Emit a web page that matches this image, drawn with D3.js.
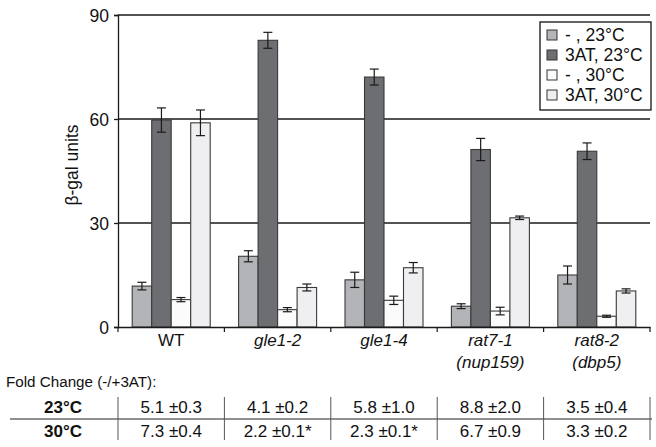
<!DOCTYPE html>
<html><head><meta charset="utf-8">
<script src="https://cdn.jsdelivr.net/npm/d3@7"></script>
<style>body{margin:0;background:#fff}svg{display:block}text{font-family:"Liberation Sans",Arial,sans-serif;fill:#111}</style>
</head><body>
<svg id="c" width="656" height="447"></svg>
<script>
const categories = ["WT","gle1-2","gle1-4","rat7-1","rat8-2"];
const catLine2 = ["","","","(nup159)","(dbp5)"];
const catItalic = [false,true,true,true,true];
const seriesNames = ["- , 23°C","3AT, 23°C","- , 30°C","3AT, 30°C"];
const seriesColors = ["#b3b4b7","#6d6e72","#fbfbfb","#efeff2"];
const minus23 = [11.8,20.4,13.6,6.0,15.0];
const minus23Err = [1.1,1.6,2.2,0.7,2.6];
const at23 = [59.7,82.7,72.1,51.2,50.7];
const at23Err = [3.5,2.3,2.3,3.2,2.4];
const minus30 = [7.9,5.0,7.7,4.6,3.1];
const minus30Err = [0.6,0.6,1.2,1.1,0.3];
const at30 = [58.9,11.4,17.1,31.5,10.4];
const at30Err = [3.7,1.0,1.5,0.5,0.6];
const yTicks = [0,30,60,90];
const tableRows = ["23°C","30°C"];
const fold23 = ["5.1 ±0.3","4.1 ±0.2","5.8 ±1.0","8.8 ±2.0","3.5 ±0.4"];
const fold30 = ["7.3 ±0.4","2.2 ±0.1*","2.3 ±0.1*","6.7 ±0.9","3.3 ±0.2"];

const values = [minus23, at23, minus30, at30];
const errs = [minus23Err, at23Err, minus30Err, at30Err];

const svg = d3.select("#c");
const L = 118, R = 650, T = 15, B = 327;
const x = d3.scaleBand().domain(categories).range([L, R]);
const bw = x.bandwidth();
const xs = d3.scaleBand().domain(d3.range(4)).range([14.2, bw - 14.2]);
const y = d3.scaleLinear().domain([0, 90]).range([B, T]);

// gridlines
svg.append("g").selectAll("line").data(yTicks.filter(d => d > 0)).join("line")
  .attr("x1", L).attr("x2", R).attr("y1", d => y(d)).attr("y2", d => y(d))
  .attr("stroke", "#1a1a1a").attr("stroke-width", 1.3);

// y axis
const ya = svg.append("g").attr("transform", `translate(${L},0)`)
  .call(d3.axisLeft(y).tickValues(yTicks).tickSize(4).tickPadding(5));
ya.select(".domain").attr("stroke", "#1a1a1a").attr("stroke-width", 1.3);
ya.selectAll(".tick line").attr("stroke", "#1a1a1a").attr("stroke-width", 1.3);
ya.selectAll(".tick text").style("font-size", "17.5px").attr("fill", "#111").attr("dy", "0.36em");

svg.append("text").attr("transform", `translate(78,${(T + B) / 2 - 6}) rotate(-90)`)
  .attr("text-anchor", "middle").style("font-size", "17.5px").text("β-gal units");

// bars
const data = [];
categories.forEach((c, i) => values.forEach((s, j) => data.push({c, j, v: s[i], e: errs[j][i]})));
const g = svg.append("g");
g.selectAll("rect").data(data).join("rect")
  .attr("x", d => x(d.c) + xs(d.j)).attr("width", xs.bandwidth())
  .attr("y", d => y(d.v)).attr("height", d => y(0) - y(d.v))
  .attr("fill", d => seriesColors[d.j]).attr("stroke", "#3a3a3a").attr("stroke-width", 1.1);

// error bars
const eg = svg.append("g").attr("stroke", "#1a1a1a").attr("stroke-width", 1.2);
data.forEach(d => {
  const cx = x(d.c) + xs(d.j) + xs.bandwidth() / 2;
  eg.append("line").attr("x1", cx).attr("x2", cx).attr("y1", y(d.v + d.e)).attr("y2", y(d.v - d.e));
  [d.v + d.e, d.v - d.e].forEach(v => eg.append("line").attr("x1", cx - 4.5).attr("x2", cx + 4.5).attr("y1", y(v)).attr("y2", y(v)));
});

// x axis
const xa = svg.append("g").attr("transform", `translate(0,${B})`)
  .call(d3.axisBottom(x).tickSize(0).tickFormat(""));
xa.select(".domain").attr("stroke", "#1a1a1a").attr("stroke-width", 1.3);
const bounds = categories.map(c => x(c)).concat([R]);
svg.append("g").selectAll("line").data(bounds).join("line")
  .attr("x1", d => d).attr("x2", d => d).attr("y1", B).attr("y2", B + 5)
  .attr("stroke", "#1a1a1a").attr("stroke-width", 1.2);

const cl = svg.append("g");
categories.forEach((c, i) => {
  const cx = x(c) + bw / 2;
  cl.append("text").attr("x", cx).attr("y", 346).attr("text-anchor", "middle")
    .style("font-size", "17px").style("font-style", catItalic[i] ? "italic" : "normal").text(c);
  if (catLine2[i]) cl.append("text").attr("x", cx).attr("y", 368).attr("text-anchor", "middle")
    .style("font-size", "17px").style("font-style", "italic").text(catLine2[i]);
});

// legend
const lg = svg.append("g");
lg.append("rect").attr("x", 540).attr("y", 22).attr("width", 111).attr("height", 88)
  .attr("fill", "#fff").attr("stroke", "#111").attr("stroke-width", 1.3);
seriesNames.forEach((n, j) => {
  const cy = 35 + j * 20;
  lg.append("rect").attr("x", 547).attr("y", cy - 5).attr("width", 10).attr("height", 10)
    .attr("fill", seriesColors[j]).attr("stroke", "#333").attr("stroke-width", 1);
  lg.append("text").attr("x", 565).attr("y", cy + 6).style("font-size", "17.5px").text(n);
});

// fold change table
svg.append("text").attr("x", 6).attr("y", 387).style("font-size", "15.2px").text("Fold Change (-/+3AT):");
const tg = svg.append("g");
tg.append("line").attr("x1", 10).attr("x2", 652).attr("y1", 419).attr("y2", 419).attr("stroke", "#222").attr("stroke-width", 1.2);
bounds.forEach(b => tg.append("line").attr("x1", b).attr("x2", b).attr("y1", 397).attr("y2", 440).attr("stroke", "#555").attr("stroke-width", 1));
const rowY = [413, 437];
tableRows.forEach((r, k) => {
  tg.append("text").attr("x", 63).attr("y", rowY[k]).attr("text-anchor", "middle")
    .style("font-size", "17px").style("font-weight", "bold").text(r);
  const vals = k === 0 ? fold23 : fold30;
  categories.forEach((c, i) => tg.append("text").attr("x", x(c) + bw / 2).attr("y", rowY[k])
    .attr("text-anchor", "middle").style("font-size", "17px").text(vals[i]));
});
</script>
</body></html>
